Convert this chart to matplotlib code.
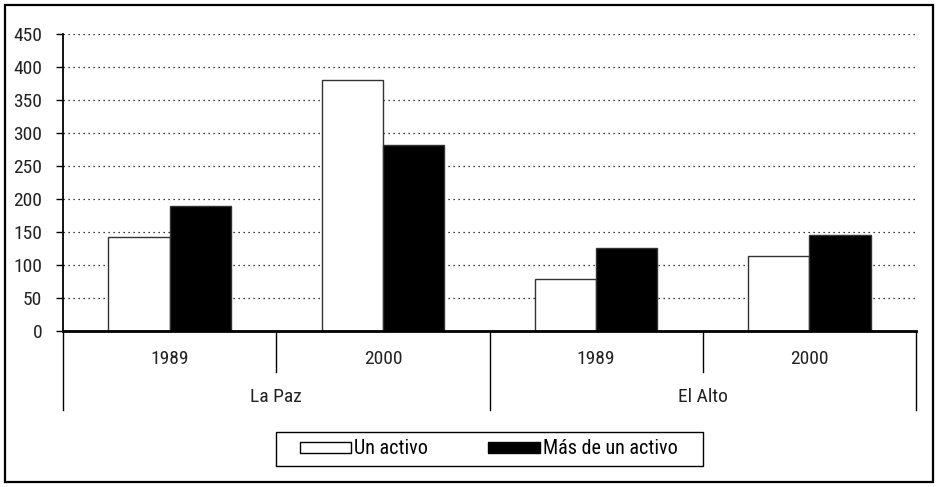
import matplotlib
matplotlib.use("Agg")
import matplotlib.pyplot as plt
from matplotlib.patches import Patch, Rectangle
from matplotlib import font_manager
import numpy as np

# ---- data ----
regions = ["La Paz", "El Alto"]
years = ["1989", "2000", "1989", "2000"]
series_names = ["Un activo", "Más de un activo"]
un_activo = [142, 380, 79, 114]
mas_de_un_activo = [189, 282, 126, 145]
yticks = [0, 50, 100, 150, 200, 250, 300, 350, 400, 450]

# pick a narrow sans font if available
entries = font_manager.fontManager.ttflist
fam, stretch = "DejaVu Sans", "normal"
cands = ["Liberation Sans Narrow", "Roboto Condensed", "Open Sans Condensed"]
names = {f.name for f in entries}
chosen = False
for nm in cands:
    if nm in names:
        fam, chosen = nm, True
        break
if not chosen:
    for f in entries:
        if f.name in ("Liberation Sans", "Roboto", "Open Sans", "Noto Sans", "DejaVu Sans") and \
                str(f.stretch) in ("condensed", "semi-condensed", "extra-condensed", "75", "87.5") and f.weight in (400, "normal", "regular"):
            fam, stretch = f.name, f.stretch
            chosen = True
            break
plt.rcParams["font.family"] = [fam, "DejaVu Sans"]
plt.rcParams["font.stretch"] = stretch

W, H = 938, 487
fig = plt.figure(figsize=(W / 100, H / 100), dpi=100)

# outer border
fig.patches.append(Rectangle((5 / W, 5 / H), 928 / W, 477 / H, transform=fig.transFigure,
                             fill=False, edgecolor="black", linewidth=1.6))

x0, x1, ytop, y0 = 63, 916, 34, 331
ax = fig.add_axes([x0 / W, (H - y0) / H, (x1 - x0) / W, (y0 - ytop) / H])

n = len(years)
x = np.arange(n)
bw = 0.287
ax.bar(x - bw / 2, un_activo, width=bw, color="white", edgecolor="#333333", linewidth=1.0, zorder=3)
ax.bar(x + bw / 2, mas_de_un_activo, width=bw, color="black", edgecolor="#333333", linewidth=1.0, zorder=3)

ax.set_xlim(-0.5, n - 0.5)
ax.set_ylim(0, 450)
ax.set_yticks(yticks)
ax.set_yticklabels([str(v) for v in yticks], fontsize=14, color="#222222")
ax.yaxis.grid(True, linestyle=(0, (1, 3)), color="black", linewidth=0.9)
ax.set_axisbelow(True)
ax.tick_params(axis="y", direction="out", length=5, width=1, pad=10)
ax.set_xticks([])
for s in ["top", "right"]:
    ax.spines[s].set_visible(False)
ax.spines["left"].set_linewidth(1.3)
ax.spines["bottom"].set_linewidth(2.0)
ax.spines["bottom"].set_zorder(4)

# hierarchical category axis
ah = y0 - ytop
def ay(py):
    return (y0 - py) / ah

tr = ax.get_xaxis_transform()
for b in [0.5, 2.5]:
    ax.plot([b, b], [0, ay(372)], color="black", lw=1.0, transform=tr, clip_on=False)
for b in [-0.5, 1.5, 3.5]:
    ax.plot([b, b], [0, ay(410)], color="black", lw=1.0, transform=tr, clip_on=False)
for i, yl in enumerate(years):
    ax.text(i, ay(359), yl, transform=tr, ha="center", va="center", fontsize=14, color="#222222")
for j, r in enumerate(regions):
    ax.text(2 * j + 0.5, ay(397), r, transform=tr, ha="center", va="center", fontsize=14, color="#222222")

# legend with a separately drawn frame
fig.patches.append(Rectangle((276 / W, (H - 466) / H), 427 / W, 34 / H, transform=fig.transFigure,
                             fill=False, edgecolor="black", linewidth=1.0))
handles = [Patch(facecolor="white", edgecolor="black", linewidth=1.0),
           Patch(facecolor="black", edgecolor="black", linewidth=1.0)]
leg = fig.legend(handles, series_names, loc="center", bbox_to_anchor=(488.5 / W, (H - 449) / H),
                 ncol=2, fontsize=14.5, frameon=False,
                 handlelength=2.55, handleheight=0.5, handletextpad=0.15,
                 columnspacing=3.0, borderpad=0.3, borderaxespad=0)

fig.savefig("out.png", dpi=100)
